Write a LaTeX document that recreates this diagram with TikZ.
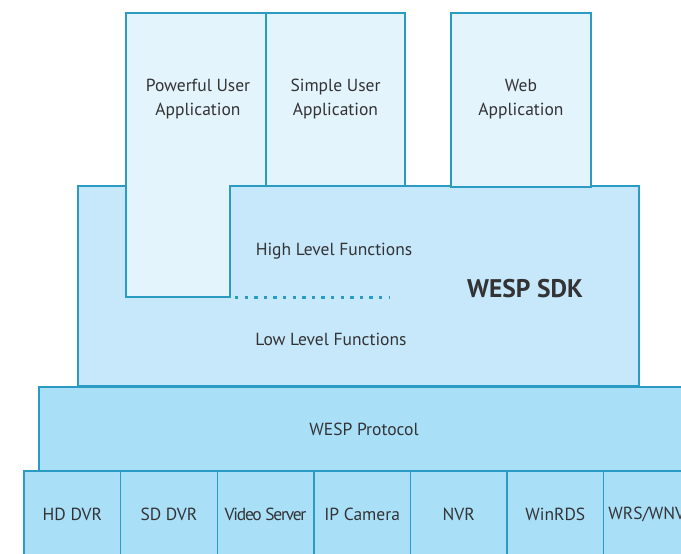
\documentclass[tikz,border=0pt]{standalone}
\usepackage{fontspec}
\setmainfont{PT Sans}
\usetikzlibrary{positioning}
\definecolor{wline}{HTML}{2A9BC2}
\definecolor{wtext}{HTML}{333335}
\definecolor{wapp}{HTML}{E4F4FC}
\definecolor{wsdk}{HTML}{C6E8FA}
\definecolor{wproto}{HTML}{A9E0F8}
\tikzset{
    box/.style={draw=wline,line width=1.4pt,inner sep=0pt,outer sep=0pt,
        anchor=north west,text=wtext,align=center},
    app/.style={box,fill=wapp},
    sdk/.style={box,fill=wsdk},
    proto/.style={box,fill=wproto},
    cell/.style={proto,minimum width=96.6pt,minimum height=100pt},
    lbl/.style={text=wtext,inner sep=0pt,font=\fontsize{17.5}{24}\selectfont,align=center}
}
\begin{document}
\begin{tikzpicture}[x=1pt,y=-1pt,line join=miter]
    \useasboundingbox (0,0) rectangle (681,554);
    \clip (0,0) rectangle (681,554);
    % sdk block
    \node[sdk,minimum width=561pt,minimum height=200pt] (sdk) at (78,186) {};
    % applications
    \def\P{(126,13)--(266,13)--(266,186)--(230,186)--(230,297)--(126,297)--cycle}
    \filldraw[fill=wapp,draw=wline,line width=1.4pt] \P;
    \coordinate (pcorner) at (230,297);
    \node[lbl] (power) at (198,99) {Powerful User\\Application};
    \node[app,minimum width=139pt,minimum height=173pt] (simple) at (266,13) {};
    \node[lbl] at (simple.center|-power) {Simple User\\Application};
    \node[app,minimum width=140pt,minimum height=174pt] (web) at (451,13) {};
    \node[lbl] at (web.center|-power) {Web\\Application};
    \node[lbl] (high) at (334,251) {High Level Functions};
    \node[lbl] (low) at (331,339) {Low Level Functions};
    \node[lbl,font=\fontsize{25.5}{30}\bfseries] (wesp) at (525,289) {WESP SDK};
    \coordinate (dend) at (390,297);
    \draw[wline,line width=3pt,dash pattern=on 3.4pt off 6.2pt] ([xshift=5pt]pcorner) -- (dend);
    % protocol + devices
    \node[proto,minimum width=660pt,minimum height=84pt] (proto) at (39,387) {};
    \node[lbl] at (364,429) {WESP Protocol};
    \node[cell] (hd) at (24,471) {};
    \node[cell,right=0pt of hd] (sd) {};
    \node[cell,right=0pt of sd] (vs) {};
    \node[cell,right=0pt of vs] (ip) {};
    \node[cell,right=0pt of ip] (nvr) {};
    \node[cell,right=0pt of nvr] (rds) {};
    \node[cell,right=0pt of rds] (wrs) {};
    \foreach \c/\t in {hd/HD DVR,sd/SD DVR,ip/IP Camera,nvr/NVR,rds/WinRDS,wrs/{WRS/WNVR}}
        \node[lbl] at (\c.north|-0,514) {\t};
    \node[lbl,font=\fontsize{17.5}{24}\selectfont\addfontfeature{LetterSpace=-7}] at (vs.north|-0,514) {Video Server};
\end{tikzpicture}
\end{document}
